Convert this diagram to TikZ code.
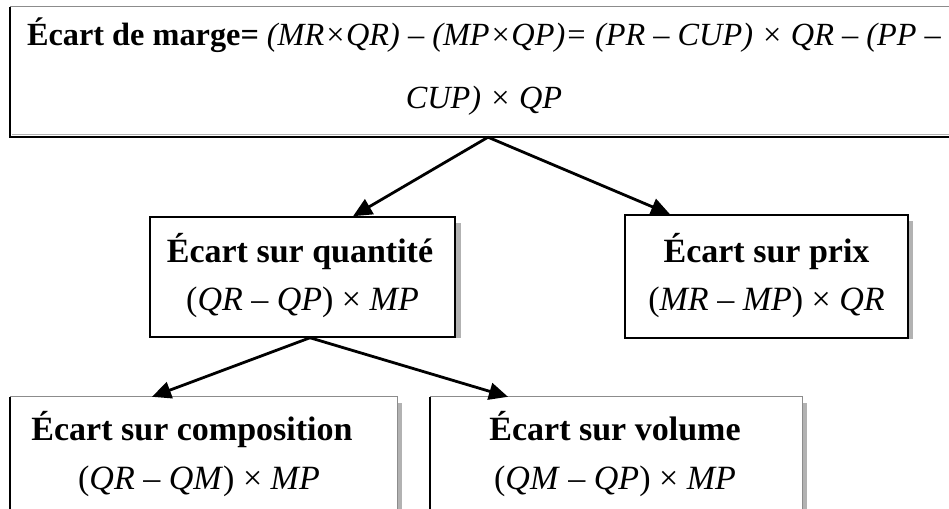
\documentclass[tikz,border=0pt]{standalone}
\usepackage{fontspec}
\setmainfont{Liberation Serif}
\usetikzlibrary{arrows.meta}
\begin{document}
\begin{tikzpicture}[x=1pt,y=-1pt,
  boxtext/.style={inner sep=0pt, anchor=base, font=\fontsize{34}{40}\selectfont},
  toptext/.style={inner sep=0pt, anchor=base, font=\fontsize{32.3}{40}\selectfont},
  plainbox/.style={draw=none, inner sep=0pt},
  midbox/.style={draw=black, line width=1.5pt, fill=white, inner sep=0pt},
  shadowstrip/.style={fill=black!30, draw=none},
  edgedark/.style={draw=black, line width=2.4pt},
  edgelight/.style={draw=black!45, line width=1pt},
  link/.style={line width=2.8pt, -{Triangle[length=19pt,width=17pt]}},
]
\useasboundingbox (0,0) rectangle (949,508);
\clip (0,0) rectangle (949,508);

% boxes (shadow strips first)
\fill[shadowstrip] (455,223) rectangle (461,338);
\fill[shadowstrip] (908,221) rectangle (913,339);
\fill[shadowstrip] (397,403) rectangle (402,520);
\fill[shadowstrip] (802,403) rectangle (807,520);

\node[plainbox, minimum width=956pt, minimum height=130pt] (marge) at (488,72) {};
\node[midbox, minimum width=305pt, minimum height=120pt] (qty) at (302.5,277) {};
\node[midbox, minimum width=283pt, minimum height=123pt] (prix) at (766.5,276.5) {};
\node[plainbox, minimum width=387pt, minimum height=160pt] (compo) at (203.5,477) {};
\node[plainbox, minimum width=372pt, minimum height=160pt] (vol) at (616,477) {};

% frame of the top box
\draw[edgelight] (marge.north west) -- (marge.north east);
\draw[black!30, line width=1pt] ([xshift=2pt,yshift=3pt]marge.south west) -- ([yshift=3pt]marge.south east);
\draw[edgedark] (marge.north west) -- (marge.south west) -- (marge.south east);

% frames of the lower boxes
\draw[edgelight] (compo.north west) -- (compo.north east) -- (compo.south east);
\draw[edgedark] (compo.north west) -- (compo.south west);
\draw[edgelight] (vol.north west) -- (vol.north east) -- (vol.south east);
\draw[edgedark] (vol.north west) -- (vol.south west);

% texts
\node[toptext] (t1) at (484,46) {\textbf{Écart de marge=} \textit{(MR×QR) – (MP×QP)= (PR – CUP) × QR – (PP –}};
\node[toptext] (t2) at (484,108) {\textit{CUP) × QP}};

\node[boxtext] (qtyhead) at (300,262) {\textbf{Écart sur quantité}};
\node[boxtext] (qtyform) at (302.5,310) {(\textit{QR} – \textit{QP}) × \textit{MP}};
\node[boxtext] (prixhead) at (766.5,262) {\textbf{Écart sur prix}};
\node[boxtext] (prixform) at (766.5,310) {(\textit{MR} – \textit{MP}) × \textit{QR}};
\node[boxtext] (compohead) at (192,440) {\textbf{Écart sur composition}};
\node[boxtext] (compoform) at (199,489) {(\textit{QR} – \textit{QM}) × \textit{MP}};
\node[boxtext] (volhead) at (615,440) {\textbf{Écart sur volume}};
\node[boxtext] (volform) at (615,489) {(\textit{QM} – \textit{QP}) × \textit{MP}};

% connectors
\draw[link] (marge.south) -- ([xshift=50.5pt]qty.north);
\draw[link] (marge.south) -- ([xshift=-96.5pt]prix.north);
\draw[link] ([xshift=7.5pt]qty.south) -- ([xshift=-51.5pt]compo.north);
\draw[link] ([xshift=7.5pt]qty.south) -- ([xshift=-108pt]vol.north);
\end{tikzpicture}
\end{document}
